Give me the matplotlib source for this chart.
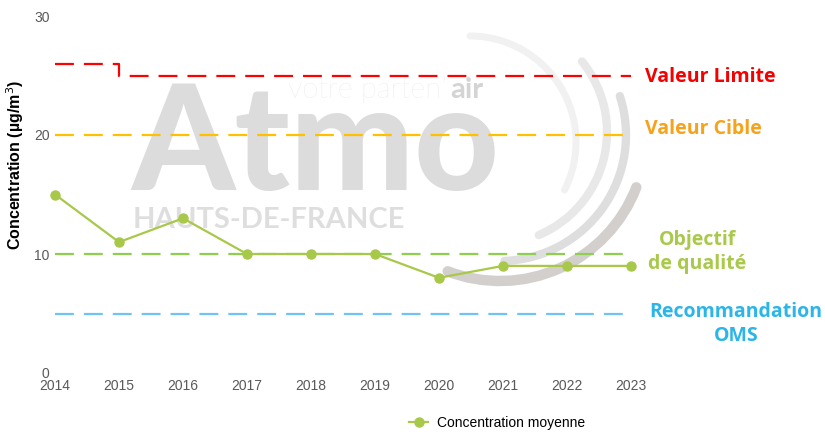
import matplotlib.pyplot as plt
from matplotlib.patches import Arc
from matplotlib.lines import Line2D

years = [2014, 2015, 2016, 2017, 2018, 2019, 2020, 2021, 2022, 2023]
concentration = [15, 11, 13, 10, 10, 10, 8, 9, 9, 9]

limite_years = [2014, 2015, 2023]
limite_values = [26, 25, 25]
valeur_cible = 20
objectif_qualite = 10
recommandation_oms = 5

yticks = [0, 10, 20, 30]

fig = plt.figure(figsize=(8.25, 4.32), dpi=100)

# watermark layer in pixel coordinates
bg = fig.add_axes([0, 0, 1, 1], zorder=0)
bg.set_xlim(0, 825)
bg.set_ylim(432, 0)
bg.axis("off")

def arc(cx, cy, r, a1, a2, color, lw):
    # angles given counterclockwise on screen; y axis is inverted
    bg.add_patch(Arc((cx, cy), 2 * r, 2 * r, theta1=-a2, theta2=-a1,
                     color=color, lw=lw, capstyle="round"))

arc(470, 142, 106, -27, 90, "#f1f1f1", 5)
arc(495, 132, 112, -67, 39, "#e8e8e8", 6)
arc(500, 135, 126, -88, 18, "#dedede", 6)
arc(500, 135, 146, -111, -21, "#d3cfcd", 7.5)

bg.text(131, 190, "Atmo", fontsize=106, fontweight="black", family="Lato",
        color="#dcdcdc", va="baseline", ha="left")
bg.text(133, 228, "HAUTS-DE-FRANCE", fontsize=21, family="Lato",
        fontweight="bold", color="#dedede", va="baseline", ha="left")
bg.text(288, 98, "votre parten\u2019", fontsize=21, family="Lato",
        fontweight="light", color="#e2e2e2", va="baseline", ha="left")
bg.text(450, 98, "air", fontsize=21, family="Lato", fontweight="bold",
        color="#d4d4d4", va="baseline", ha="left")

# labels on the right
lab = dict(family="Open Sans", fontweight="bold", fontsize=14, va="center")
bg.text(645, 77, "Valeur Limite", color="#f50000", ha="left", **lab)
bg.text(645, 129, "Valeur Cible", color="#f7a21b", ha="left", **lab)
bg.text(697, 252, "Objectif\nde qualit\u00e9", color="#a9c94b", ha="center",
        linespacing=1.3, **lab)
bg.text(736, 324, "Recommandation\nOMS", color="#2cb5e8", ha="center",
        linespacing=1.3, **lab)

ax = fig.add_axes([55 / 825, 59 / 432, 576 / 825, 357 / 432], zorder=1)
ax.set_facecolor("none")

dash = dict(lw=1.6, dashes=(8.5, 4.5))
ax.step(limite_years, limite_values, where="post", color="#ff0000", **dash)
ax.plot([years[0], years[-1]], [valeur_cible] * 2, color="#ffc000", **dash)
ax.plot([years[0], years[-1]], [objectif_qualite] * 2, color="#8fcf4f", **dash)
ax.plot([years[0], years[-1]], [recommandation_oms] * 2, color="#70c3f5", **dash)

ax.plot(years, concentration, color="#a8c84a", lw=1.6, marker="o",
        markersize=6.5, clip_on=False, zorder=3)

ax.set_xlim(2014, 2023)
ax.set_ylim(0, 30)
ax.set_xticks(years)
ax.set_yticks(yticks)
ax.tick_params(length=0, labelsize=10, labelcolor="#595959", pad=4)
for t in ax.get_xticklabels() + ax.get_yticklabels():
    t.set_family("Liberation Sans")
for s in ax.spines.values():
    s.set_visible(False)

ax.set_ylabel("Concentration (\u00b5g/m$^3$)", fontsize=11.5,
              fontweight="bold", family="Liberation Sans", color="black")
ax.yaxis.set_label_coords(-0.05, 0.583)

handle = Line2D([], [], color="#a8c84a", lw=1.6, marker="o", markersize=6.5)
fig.legend([handle], ["Concentration moyenne"], loc="center",
           bbox_to_anchor=(497 / 825, 1 - 423 / 432), frameon=False,
           handlelength=1.4, handletextpad=0.6,
           prop={"family": "Liberation Sans", "size": 10})

fig.savefig("out.png", dpi=100)
